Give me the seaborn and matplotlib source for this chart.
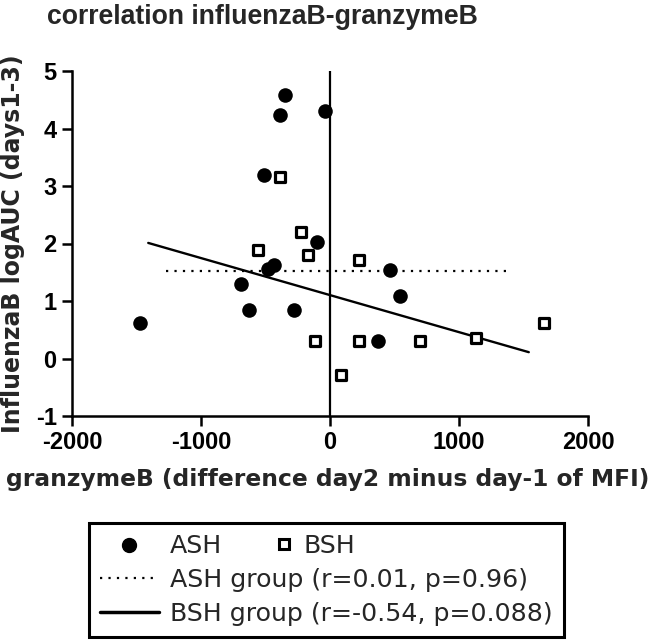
import numpy as np
import pandas as pd
import matplotlib
matplotlib.use("Agg")
import matplotlib.pyplot as plt
from matplotlib.lines import Line2D
import seaborn as sns

# ---- data ----
ash_x = [-347, -388, -39, -510, -101, -433, -484, -689, -627, -277, -1474, 466, 544, 375]
ash_y = [4.58, 4.23, 4.31, 3.19, 2.02, 1.63, 1.56, 1.30, 0.85, 0.85, 0.62, 1.54, 1.09, 0.30]
bsh_x = [-386, -225, -562, -171, -114, 85, 228, 223, 694, 1129, 1660]
bsh_y = [3.16, 2.20, 1.88, 1.80, 0.30, -0.28, 1.71, 0.30, 0.30, 0.35, 0.62]

# regression lines (x range, y at ends)
ash_fit_x = [-1274, 1381]
ash_fit_y = [1.53, 1.53]
bsh_fit_x = [-1409, 1541]
bsh_fit_y = [2.01, 0.11]

x_ticks = [-2000, -1000, 0, 1000, 2000]
y_ticks = [-1, 0, 1, 2, 3, 4, 5]

title = "correlation influenzaB-granzymeB"
xlabel = "granzymeB (difference day2 minus day-1 of MFI)"
ylabel = "InfluenzaB logAUC (days1-3)"
ash_label = "ASH"
bsh_label = "BSH"
ash_fit_label = "ASH group (r=0.01, p=0.96)"
bsh_fit_label = "BSH group (r=-0.54, p=0.088)"

sns.set_style("ticks")
plt.rcParams["font.family"] = ["Liberation Sans", "DejaVu Sans"]

fig = plt.figure(figsize=(6.55, 6.43), dpi=100)
ax = fig.add_axes([72 / 655, 1 - 416 / 643, 516 / 655, 345 / 643])

df_ash = pd.DataFrame({"x": ash_x, "y": ash_y})
df_bsh = pd.DataFrame({"x": bsh_x, "y": bsh_y})

ax.axvline(0, color="black", lw=1.6, zorder=1)

sns.lineplot(x=ash_fit_x, y=ash_fit_y, ax=ax, color="black", lw=1.6,
             linestyle=(0, (1, 2.8)), zorder=2)
sns.lineplot(x=bsh_fit_x, y=bsh_fit_y, ax=ax, color="black", lw=1.7, zorder=2)

sns.scatterplot(data=df_ash, x="x", y="y", ax=ax, marker="o", s=110,
                color="black", edgecolor="black", linewidth=0, zorder=3)
sns.scatterplot(data=df_bsh, x="x", y="y", ax=ax, marker="s", s=60,
                facecolor="white", edgecolor="black", linewidth=2.3, zorder=3)

ax.set_xlim(-2000, 2000)
ax.set_ylim(-1, 5)
ax.set_xticks(x_ticks)
ax.set_yticks(y_ticks)
ax.set_xticklabels([str(t) for t in x_ticks])
ax.set_yticklabels([str(t) for t in y_ticks])

for side in ["top", "right"]:
    ax.spines[side].set_visible(False)
for side in ["left", "bottom"]:
    ax.spines[side].set_linewidth(1.8)
    ax.spines[side].set_color("black")

ax.tick_params(axis="both", direction="out", length=7, width=1.8,
               colors="black", labelsize=17, pad=4)
for lab in ax.get_xticklabels() + ax.get_yticklabels():
    lab.set_fontweight("bold")

ax.set_xlabel(xlabel, fontsize=16.8, fontweight="bold", family=["DejaVu Sans"])
ax.set_ylabel(ylabel, fontsize=17, fontweight="bold", family=["DejaVu Sans"])
ax.xaxis.set_label_coords(0.495, -0.15)
ax.yaxis.set_label_coords(-0.092, 0.5)

fig.text(262 / 655, 1 - 17 / 643, title, ha="center", va="center",
         fontsize=19.2, fontweight="bold",
         family=["Liberation Sans", "DejaVu Sans"])

# legend
h_ash = Line2D([], [], marker="o", color="black", linestyle="none", markersize=10)
h_ash_fit = Line2D([], [], color="black", lw=1.6, linestyle=(0, (1, 2.8)))
h_bsh_fit = Line2D([], [], color="black", lw=2.5)
leg = fig.legend([h_ash, h_ash_fit, h_bsh_fit], [ash_label, ash_fit_label, bsh_fit_label],
                 loc="upper left", bbox_to_anchor=(89 / 655, 1 - 523 / 643),
                 prop={"family": "DejaVu Sans", "size": 18.2},
                 frameon=True, fancybox=False, framealpha=1,
                 edgecolor="black", handlelength=2.3, handletextpad=0.45,
                 borderpad=0.45, labelspacing=0.38, borderaxespad=0)
leg.get_frame().set_linewidth(2.2)

h_bsh = Line2D([], [], marker="s", markerfacecolor="white", markeredgecolor="black",
               markeredgewidth=2.2, color="black", linestyle="none", markersize=7)
leg2 = fig.legend([h_bsh], [bsh_label], loc="center left",
                  bbox_to_anchor=(276 / 655, 1 - 546 / 643),
                  prop={"family": "DejaVu Sans", "size": 18.2},
                  frameon=False, handlelength=0.6, handletextpad=0.5,
                  borderpad=0, borderaxespad=0)

fig.savefig("out.png", dpi=100)
